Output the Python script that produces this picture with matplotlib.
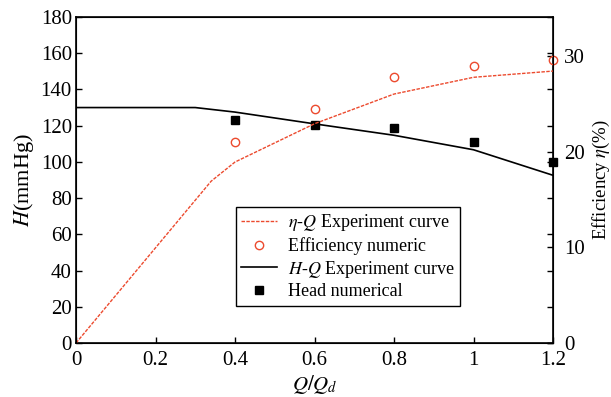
import matplotlib.pyplot as plt

plt.rcParams['font.family'] = ['Liberation Serif', 'DejaVu Serif']
plt.rcParams['mathtext.fontset'] = 'stix'

# H-Q experiment curve (mmHg)
hq_x = [0, 0.3, 0.4, 0.6, 0.8, 1.0, 1.2]
hq_y = [130, 130, 127.5, 121, 114.7, 106.7, 92.6]

# head numerical (mmHg)
head_x = [0.4, 0.6, 0.8, 1.0, 1.2]
head_y = [123, 120.5, 118.5, 110.8, 100]

# eta-Q experiment curve (%)
eq_x = [0, 0.34, 0.4, 0.6, 0.8, 1.0, 1.2]
eq_y = [0, 16.9, 18.9, 22.9, 26.0, 27.75, 28.4]

# efficiency numeric (%)
eff_x = [0.4, 0.6, 0.8, 1.0, 1.2]
eff_y = [20.95, 24.4, 27.8, 28.9, 29.6]

fig = plt.figure(figsize=(6.11, 3.97), dpi=100)
ax = fig.add_axes([76 / 611, 1 - 343 / 397, (553 - 76) / 611, (343 - 17) / 397])
ax2 = ax.twinx()

l1, = ax2.plot(eq_x, eq_y, color='#ec4a2e', lw=1, ls=(0, (2.5, 1)))
l2, = ax2.plot(eff_x, eff_y, 'o', mfc='none', mec='#ec4a2e', ms=6, mew=1,
               clip_on=False)
l3, = ax.plot(hq_x, hq_y, color='black', lw=1.2)
l4, = ax.plot(head_x, head_y, 's', color='black', ms=6, clip_on=False,
              zorder=5)

ax.set_xlim(0, 1.2)
ax.set_ylim(0, 180)
ax2.set_ylim(0, 180 * 30 / 158.6)
ax.set_xticks([0, 0.2, 0.4, 0.6, 0.8, 1.0, 1.2])
ax.set_xticklabels(['0', '0.2', '0.4', '0.6', '0.8', '1', '1.2'])
ax.set_yticks(range(0, 181, 20))
ax2.set_yticks([0, 10, 20, 30])

ax.tick_params(axis='x', direction='in', labelsize=15, length=4, width=1, pad=6)
ax.tick_params(axis='y', direction='in', right=True, labelsize=15, length=4,
               width=1, pad=3)
ax2.tick_params(direction='in', labelsize=15, length=4, width=1, pad=8)
for s in ax.spines.values():
    s.set_linewidth(1.2)

ax.set_xlabel(r'$Q/Q_d$', fontsize=15, labelpad=2)
ax.set_ylabel(r'$H$(mmHg)', fontsize=16, labelpad=3)
ax2.set_ylabel(r'Efficiency $\eta$(%)', fontsize=13.5, labelpad=4)

leg = ax.legend([l1, l2, l3, l4],
                [r'$\eta$-$Q$ Experiment curve', 'Efficiency numeric',
                 r'$H$-$Q$ Experiment curve', 'Head numerical'],
                loc='upper left', bbox_to_anchor=(0.335, 0.417),
                borderaxespad=0, fontsize=13, fancybox=False,
                edgecolor='black', framealpha=1, handlelength=2.0,
                handletextpad=0.6, borderpad=0.3, labelspacing=0.2)
leg.get_frame().set_linewidth(1)

fig.savefig('out.png', dpi=100)
